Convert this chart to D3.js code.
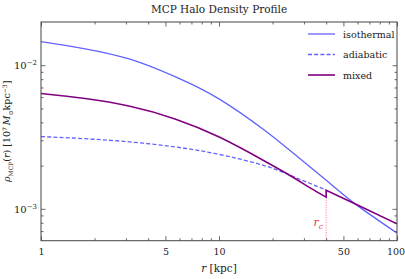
<!DOCTYPE html>
<html><head><meta charset="utf-8">
<script src="https://cdn.jsdelivr.net/npm/d3@7"></script>
<style>
html,body{margin:0;padding:0;background:#fff;}
svg{display:block;}
</style></head>
<body><svg id="chart" width="405" height="279"></svg>
<script>
// ---- data ----
const radiiIso   = [1, 1.77, 3.16, 5.66, 10.1, 18.1, 24.4, 32.5, 43.7, 59.2, 100];
const isothermal = [0.01461, 0.01302, 0.01101, 0.00832, 0.00578, 0.00351, 0.002619, 0.001957, 0.001444, 0.001066, 0.000678];
const radiiInner = [1, 1.77, 3.16, 5.66, 10.1, 18.1, 25.6, 32.5, 40];
const adiabatic  = [0.003188, 0.003078, 0.002924, 0.002698, 0.002390, 0.001995, 0.001698, 0.001501, 0.001355];
const mixedInner = [0.006360, 0.005860, 0.005174, 0.004230, 0.003147, 0.002147, 0.001681, 0.001399, 0.001206];
const radiiOuter = [40, 59.2, 100];
const mixedOuter = [0.001349, 0.001071, 0.000787];
const rCore = 40;
const xMajorTicks = [1, 5, 10, 50, 100];
const xMinorTicks = [2,3,4,6,7,8,9,20,30,40,60,70,80,90];
const yMajorTicks = [1e-3, 1e-2];
const yMinorTicks = [7e-4,8e-4,9e-4,2e-3,3e-3,4e-3,5e-3,6e-3,7e-3,8e-3,9e-3];
const legendItems = [
  {label:"isothermal", color:"#6262ff", dash:null, width:1.3},
  {label:"adiabatic", color:"#6262ff", dash:"4,2.2", width:1.3},
  {label:"mixed", color:"#800080", dash:null, width:1.6}
];

const SERIF = "DejaVu Serif";
const svg = d3.select("#chart");
const L = 41, R = 397, T = 22, B = 240.7;
const x = d3.scaleLog().domain([1, 100]).range([L, R]);
const y = d3.scaleLog().domain([6.0e-4, 2.0e-2]).range([B, T]);

const plot = svg.append("g");
plot.append("defs").append("clipPath").attr("id","clip")
  .append("rect").attr("x",L).attr("y",T).attr("width",R-L).attr("height",B-T);

const line = d3.line().x(d=>x(d[0])).y(d=>y(d[1])).curve(d3.curveNatural);
const g = plot.append("g").attr("clip-path","url(#clip)");

// r_c dotted line
g.append("line").attr("x1",x(rCore)).attr("x2",x(rCore))
  .attr("y1",B).attr("y2",y(mixedInner[mixedInner.length-1]))
  .attr("stroke","#ff6070").attr("stroke-width",0.9).attr("stroke-dasharray","1,1.5");

g.append("path").datum(radiiIso.map((r,i)=>[r,isothermal[i]]))
  .attr("d",line).attr("fill","none").attr("stroke","#6262ff").attr("stroke-width",1.3);
g.append("path").datum(radiiInner.map((r,i)=>[r,adiabatic[i]]))
  .attr("d",line).attr("fill","none").attr("stroke","#6262ff").attr("stroke-width",1.3)
  .attr("stroke-dasharray","4,2.2");
const mixedPts = radiiInner.map((r,i)=>[r,mixedInner[i]]);
const mixedOut = radiiOuter.map((r,i)=>[r,mixedOuter[i]]);
const dIn = line(mixedPts), dOut = line(mixedOut);
g.append("path").attr("d", dIn + "L" + dOut.slice(1))
  .attr("fill","none").attr("stroke","#800080").attr("stroke-width",1.6).attr("stroke-linejoin","miter");

function txt(sel){ return sel.attr("font-family", SERIF); }

// r_c label
const rcT = txt(svg.append("text")).attr("x",x(rCore)-3).attr("y",226).attr("text-anchor","end")
  .attr("fill","#e8404a").attr("font-size",11);
rcT.append("tspan").attr("font-style","italic").text("r");
rcT.append("tspan").attr("font-style","italic").attr("dy",2.5).attr("font-size",8).text("c");

// axes
const axisColor = "#444";
function styleAxis(sel){ sel.attr("font-family",SERIF); sel.select(".domain").remove(); sel.selectAll("line").attr("stroke",axisColor).attr("stroke-width",0.8); }
svg.append("g").attr("transform",`translate(0,${B})`)
  .call(d3.axisBottom(x).tickValues(xMajorTicks).tickSizeInner(-4.5).tickSizeOuter(0).tickPadding(8).tickFormat(d3.format("d")))
  .call(styleAxis).call(s=>s.selectAll("text").attr("fill","#222").attr("font-size",9.5)
    .attr("dx", d => d === 100 ? -1.5 : 0));
svg.append("g").attr("transform",`translate(0,${B})`)
  .call(d3.axisBottom(x).tickValues(xMinorTicks).tickSizeInner(-2.5).tickSizeOuter(0).tickFormat(""))
  .call(styleAxis);
svg.append("g").attr("transform",`translate(0,${T})`)
  .call(d3.axisTop(x).tickValues(xMajorTicks).tickSizeInner(-4.5).tickSizeOuter(0).tickFormat(""))
  .call(styleAxis);
svg.append("g").attr("transform",`translate(0,${T})`)
  .call(d3.axisTop(x).tickValues(xMinorTicks).tickSizeInner(-2.5).tickSizeOuter(0).tickFormat(""))
  .call(styleAxis);
const yAx = svg.append("g").attr("transform",`translate(${L},0)`)
  .call(d3.axisLeft(y).tickValues(yMajorTicks).tickSizeInner(-4.5).tickSizeOuter(0).tickPadding(4).tickFormat(""))
  .call(styleAxis);
yAx.selectAll(".tick text").each(function(d){
  const t = d3.select(this).attr("fill","#222").attr("font-size",10);
  t.append("tspan").text("10");
  t.append("tspan").attr("dy",-4).attr("font-size",7).text("\u2212" + Math.round(-Math.log10(d)));
});
svg.append("g").attr("transform",`translate(${L},0)`)
  .call(d3.axisLeft(y).tickValues(yMinorTicks).tickSizeInner(-2.5).tickSizeOuter(0).tickFormat(""))
  .call(styleAxis);
svg.append("g").attr("transform",`translate(${R},0)`)
  .call(d3.axisRight(y).tickValues(yMajorTicks).tickSizeInner(-4.5).tickSizeOuter(0).tickFormat(""))
  .call(styleAxis);
svg.append("g").attr("transform",`translate(${R},0)`)
  .call(d3.axisRight(y).tickValues(yMinorTicks).tickSizeInner(-2.5).tickSizeOuter(0).tickFormat(""))
  .call(styleAxis);

// frame
svg.append("rect").attr("x",L).attr("y",T).attr("width",R-L).attr("height",B-T)
  .attr("fill","none").attr("stroke",axisColor).attr("stroke-width",1);

// title
txt(svg.append("text")).attr("x",(L+R)/2).attr("y",13).attr("text-anchor","middle")
  .attr("fill","#222").attr("font-size",10.5).text("MCP Halo Density Profile");

// x label
const xl = txt(svg.append("text")).attr("x",(L+R)/2).attr("y",272).attr("text-anchor","middle")
  .attr("fill","#222").attr("font-size",10.5);
xl.append("tspan").attr("font-style","italic").text("r");
xl.append("tspan").text(" [kpc]");

// y label
const yl = txt(svg.append("text")).attr("transform",`translate(10,${(T+B)/2}) rotate(-90)`)
  .attr("text-anchor","middle").attr("fill","#222").attr("font-size",9.5);
yl.append("tspan").attr("font-style","italic").text("\u03C1");
yl.append("tspan").attr("dy",2.5).attr("font-size",6).text("MCP");
yl.append("tspan").attr("dy",-2.5).text("(");
yl.append("tspan").attr("font-style","italic").text("r");
yl.append("tspan").text(") [10");
yl.append("tspan").attr("dy",-3.5).attr("font-size",6).text("7");
yl.append("tspan").attr("dy",3.5).attr("font-style","italic").text("\u2009M");
yl.append("tspan").attr("dy",2.5).attr("font-size",6).text("\u2299");
yl.append("tspan").attr("dy",-2.5).text("kpc");
yl.append("tspan").attr("dy",-3.5).attr("font-size",6).text("\u22123");
yl.append("tspan").attr("dy",3.5).text("]");

// legend
const lg = svg.append("g");
legendItems.forEach((it,i)=>{
  const yy = 34 + i*20.5;
  lg.append("line").attr("x1",308).attr("x2",335).attr("y1",yy).attr("y2",yy)
    .attr("stroke",it.color).attr("stroke-width",it.width).attr("stroke-dasharray",it.dash);
  txt(lg.append("text")).attr("x",343).attr("y",yy+3.5).attr("fill","#222")
    .attr("font-size",9.5).text(it.label);
});
</script></body></html>
